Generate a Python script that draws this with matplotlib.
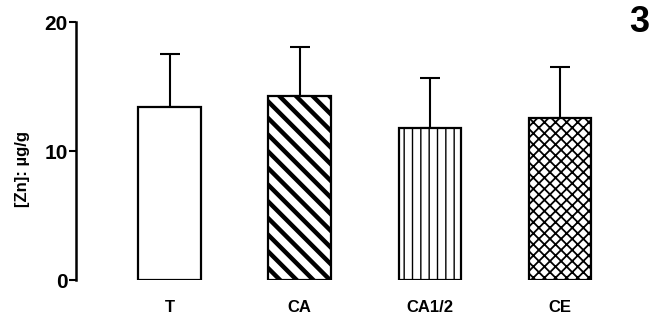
import matplotlib
matplotlib.use('Agg')
from matplotlib import pyplot as plt
import numpy as np

# data
groups = ['T', 'CA', 'CA1/2', 'CE']
means = [13.4, 14.3, 11.8, 12.6]
sd = [4.1, 3.8, 3.9, 3.9]
hatches = ['', '\\\\', '||', 'xxx']
hatch_lw = [1.0, 3.2, 1.0, 1.3]

plt.rcParams['font.family'] = ['Liberation Sans', 'DejaVu Sans']
plt.rcParams['font.weight'] = 'bold'

fig = plt.figure(figsize=(6.54, 3.25), dpi=100)
ax = fig.add_axes([0.116, 0.138, 0.8, 0.794])

x = np.arange(len(groups))
for i in range(len(groups)):
    plt.rcParams['hatch.linewidth'] = hatch_lw[i]
    b = ax.bar(x[i], means[i], width=0.48, color='white', edgecolor='black',
               linewidth=1.6, hatch=hatches[i], zorder=2)
    for p in b:
        if hasattr(p, 'set_hatch_linewidth'):
            p.set_hatch_linewidth(hatch_lw[i])

ax.errorbar(x, means, yerr=[np.zeros(len(sd)), sd], fmt='none', ecolor='black',
            elinewidth=1.5, capsize=7, capthick=1.5, zorder=1)

ax.set_xlim(-0.72, 3.3)
ax.set_ylim(0, 20)
ax.set_yticks([0, 10, 20])
ax.set_yticklabels(['0', '10', '20'], fontsize=15, fontweight='bold')
ax.set_xticks(x)
ax.set_xticklabels(groups, fontsize=12, fontweight='bold')
ax.tick_params(axis='x', length=0, pad=14)
ax.tick_params(axis='y', length=5, width=1.5, pad=1)
for s in ['top', 'right', 'bottom']:
    ax.spines[s].set_visible(False)
ax.spines['left'].set_linewidth(1.8)

fig.text(0.034, 0.48, '[Zn]: µg/g', rotation=90, ha='center', va='center',
         fontsize=12, fontweight='bold')
fig.text(0.978, 0.93, '3', ha='center', va='center', fontsize=26,
         fontweight='bold', family=['Liberation Sans Narrow', 'Liberation Sans'])

fig.savefig('out.png', dpi=100)
